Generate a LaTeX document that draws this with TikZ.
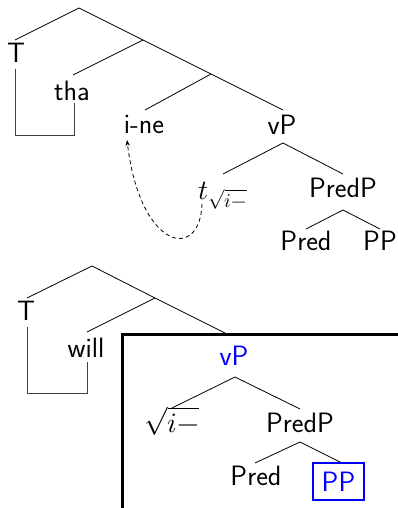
\documentclass[tikz,border=0pt]{standalone}
\usepackage{fontspec}
\usepackage{unicode-math}
\usetikzlibrary{arrows.meta}
\begin{document}
\begin{tikzpicture}[x=1pt,y=-1pt,
  br/.style={line width=0.8pt},
  brk/.style={line width=0.8pt,black!75},
  lab/.style={font=\sffamily\fontsize{28}{33}\selectfont,inner sep=0pt,anchor=base},
  hl/.style={text=blue},
  thick box/.style={line width=3pt},
  move/.style={dashed,dash pattern=on 4pt off 3pt,line width=0.8pt,-{Stealth[length=6pt,width=4.5pt]}}]
\useasboundingbox (0,0) rectangle (397,508);

% ---------- top tree ----------
\coordinate (a1) at (79,8);
\coordinate (a2) at (143,40);
\coordinate (a3) at (211,74);
\coordinate (eT) at (15,40);
\coordinate (etha) at (73,75);
\coordinate (eine) at (145,110);
\coordinate (evP) at (283,110);
\node[lab] (T1) at (16,63) {T};
\node[lab] (tha) at (72,100) {tha};
\node[lab] (ine) at (144,133) {i-ne};
\node[lab] (vP1) at (282,135) {vP};
\draw[br] (eT) -- (a1) -- (a2) -- (a3) -- (evP);
\draw[br] (a2) -- (etha);
\draw[br] (a3) -- (eine);
\draw[brk] (15,69) -- (15,135) -- (74,135) -- (74,103);

\coordinate (b1) at (283,143);
\coordinate (eb1l) at (223,174);
\coordinate (eb1r) at (343,174);
\node[lab] (tr) at (223,199) {$t_{\sqrt{i-}}$};
\node[lab] (PredP1) at (343,197) {PredP};
\draw[br] (eb1l) -- (b1) -- (eb1r);
\coordinate (b2) at (343,210);
\coordinate (eb2l) at (306,229);
\coordinate (eb2r) at (380,229);
\node[lab] (Pred1) at (306,250) {Pred};
\node[lab] (PP1) at (380,250) {PP};
\draw[br] (eb2l) -- (b2) -- (eb2r);

\coordinate (mvs) at (202,204);
\coordinate (mve) at (127,140);
\draw[move] (mvs) .. controls (200,262) and (140,250) .. (mve);

% ---------- bottom tree ----------
\coordinate (c1) at (92,266);
\coordinate (c2) at (155,298);
\coordinate (eT2) at (27,298);
\coordinate (ewill) at (87,332);
\coordinate (evP2) at (225,333);
\node[lab] (T2) at (26,320) {T};
\node[lab] (will) at (86,357) {will};
\draw[br] (eT2) -- (c1) -- (c2) -- (evP2);
\draw[br] (c2) -- (ewill);
\draw[brk] (27,327) -- (27,393) -- (87,393) -- (87,362);

\draw[thick box] (122.5,520) -- (122.5,334.5) -- (410,334.5);

\node[lab,hl] (vP2) at (234,365) {vP};
\coordinate (d1) at (235,377);
\coordinate (ed1l) at (172,408);
\coordinate (ed1r) at (300,409);
\node[lab] (root) at (172,432) {$\sqrt{i-}$};
\node[lab] (PredP2) at (300,432) {PredP};
\draw[br] (ed1l) -- (d1) -- (ed1r);
\coordinate (d2) at (300,442);
\coordinate (ed2l) at (255,463);
\coordinate (ed2r) at (342,463);
\node[lab] (Pred2) at (256,485) {Pred};
\draw[br] (ed2l) -- (d2) -- (ed2r);
\node[font=\sffamily\fontsize{28}{33}\selectfont,text=blue,draw=blue,line width=2.5pt,
  minimum width=51pt,minimum height=37pt,inner sep=0pt] (PP2) at (338.5,481.5) {PP};
\end{tikzpicture}
\end{document}
